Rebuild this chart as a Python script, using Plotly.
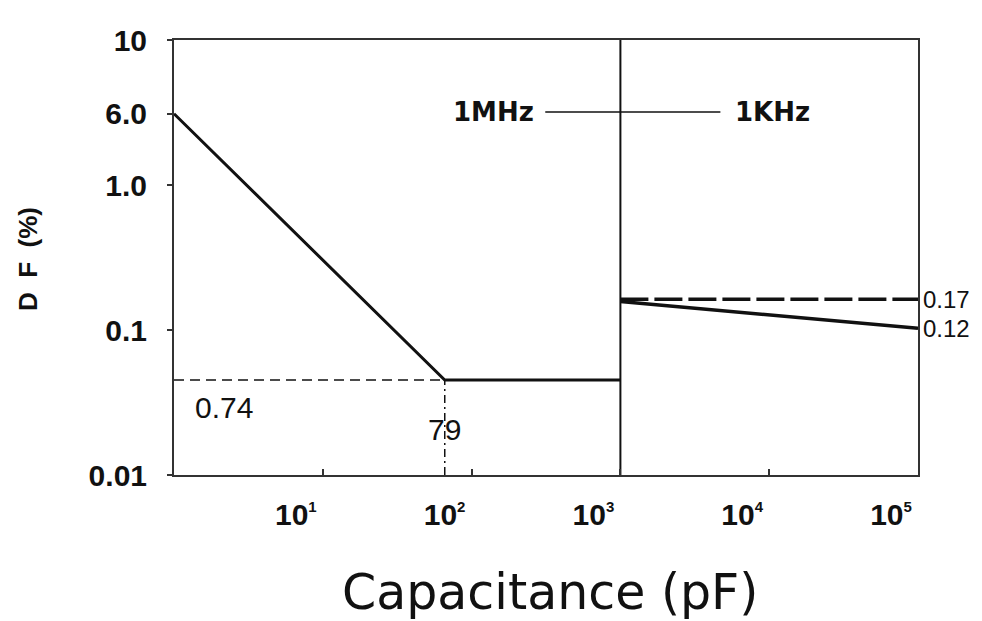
import numpy as np
import plotly.graph_objects as go

# ---- data ----
cap_1mhz = [1, 66, 1000]           # pF
df_1mhz = [3.1, 0.0452, 0.0452]    # DF %
cap_1khz = [1000, 100000]
df_1khz_solid = [0.157, 0.103]
df_1khz_dashed = [0.163, 0.163]
ref_cap = 66
ref_df = 0.0452
divider_cap = 1000

y_tickvals = [0.01, 0.1, 1, 3.1, 10]
y_ticktext = ["0.01", "0.1", "1.0", "6.0", "10"]
x_tickvals = [10, 100, 1000, 10000, 100000]
x_exps = ["1", "2", "3", "4", "5"]
x_ticktext = ["10<sup><span style='font-size:15px'>%s</span></sup>" % e for e in x_exps]

INK = "#111111"
FRAME = "#333333"
FONT = "Liberation Sans, Arial, Helvetica, sans-serif"
WIDE = "DejaVu Sans, Verdana, sans-serif"

fig = go.Figure()

# reference dashed lines
fig.add_trace(go.Scatter(x=[1, ref_cap], y=[ref_df, ref_df], mode="lines",
                         line=dict(color=INK, width=1.5, dash="10px,6px"), hoverinfo="skip"))
fig.add_trace(go.Scatter(x=[ref_cap, ref_cap], y=[0.01, ref_df], mode="lines",
                         line=dict(color=INK, width=1.5, dash="8px,4px,2px,4px"), hoverinfo="skip"))
# divider at 1e3
fig.add_trace(go.Scatter(x=[divider_cap, divider_cap], y=[0.01, 10], mode="lines",
                         line=dict(color=INK, width=2), hoverinfo="skip"))
# 1 MHz curve
fig.add_trace(go.Scatter(x=cap_1mhz, y=df_1mhz, mode="lines",
                         line=dict(color=INK, width=3), hoverinfo="skip"))
# 1 kHz curves
fig.add_trace(go.Scatter(x=cap_1khz, y=df_1khz_dashed, mode="lines",
                         line=dict(color=INK, width=3.5, dash="28px,6px"), hoverinfo="skip"))
fig.add_trace(go.Scatter(x=cap_1khz, y=df_1khz_solid, mode="lines",
                         line=dict(color=INK, width=3.5), hoverinfo="skip"))
# 1MHz -- 1KHz connector
fig.add_trace(go.Scatter(x=[10**2.495, 10**3.672], y=[10**0.503, 10**0.503], mode="lines",
                         line=dict(color=INK, width=1.5), hoverinfo="skip"))

ann = []
def A(text, x, y, size, bold=False, xanchor="center", xshift=0, family=FONT):
    ann.append(dict(text=text, x=x, y=y, xref="x", yref="y", showarrow=False,
                    xanchor=xanchor, yanchor="middle", xshift=xshift,
                    font=dict(family=family, size=size, color=INK,
                              weight="bold" if bold else "normal")))

A("0.74", 0.336, -1.531, 30)
A("79", np.log10(ref_cap), -1.683, 30)
A("0.17", 5, np.log10(df_1khz_dashed[1]), 24, xanchor="left", xshift=3)
A("0.12", 5, np.log10(df_1khz_solid[1]), 24, xanchor="left", xshift=3)
A("1MHz", 2.145, 0.503, 26, bold=True, family=WIDE)
A("1KHz", 4.021, 0.503, 26, bold=True, family=WIDE)

ann.append(dict(text="Capacitance (pF)", x=0.505, y=-0.271, xref="paper", yref="paper",
                showarrow=False, xanchor="center", yanchor="middle",
                font=dict(family=WIDE, size=49, color=INK)))
ann.append(dict(text="D\u00a0\u00a0F\u00a0\u00a0(%)", x=-0.196, y=0.497, xref="paper", yref="paper",
                showarrow=False, xanchor="center", yanchor="middle", textangle=-90,
                font=dict(family=FONT, size=26, color=INK, weight="bold")))

fig.update_layout(
    width=982, height=621,
    margin=dict(l=174, r=64, t=40, b=146),
    paper_bgcolor="white", plot_bgcolor="white",
    showlegend=False,
    annotations=ann,
)
fig.update_xaxes(type="log", range=[0, 5], tickvals=x_tickvals, ticktext=x_ticktext,
                 ticks="inside", ticklen=6, tickwidth=1.5, tickcolor=FRAME,
                 showline=True, linecolor=FRAME, linewidth=2, mirror=True,
                 showgrid=False, zeroline=False, ticklabelshift=-27, ticklabelstandoff=12,
                 tickfont=dict(family=FONT, size=30, color=INK, weight="bold"))
fig.update_yaxes(type="log", range=[-2, 1], tickvals=y_tickvals, ticktext=y_ticktext,
                 ticks="outside", ticklen=5, tickwidth=1.5, tickcolor=FRAME,
                 showline=True, linecolor=FRAME, linewidth=2, mirror=True,
                 showgrid=False, zeroline=False, ticklabelstandoff=14,
                 tickfont=dict(family=FONT, size=30, color=INK, weight="bold"))

fig.write_html("out.html", config={"displayModeBar": False},
               post_script="document.body.style.margin='0';")
